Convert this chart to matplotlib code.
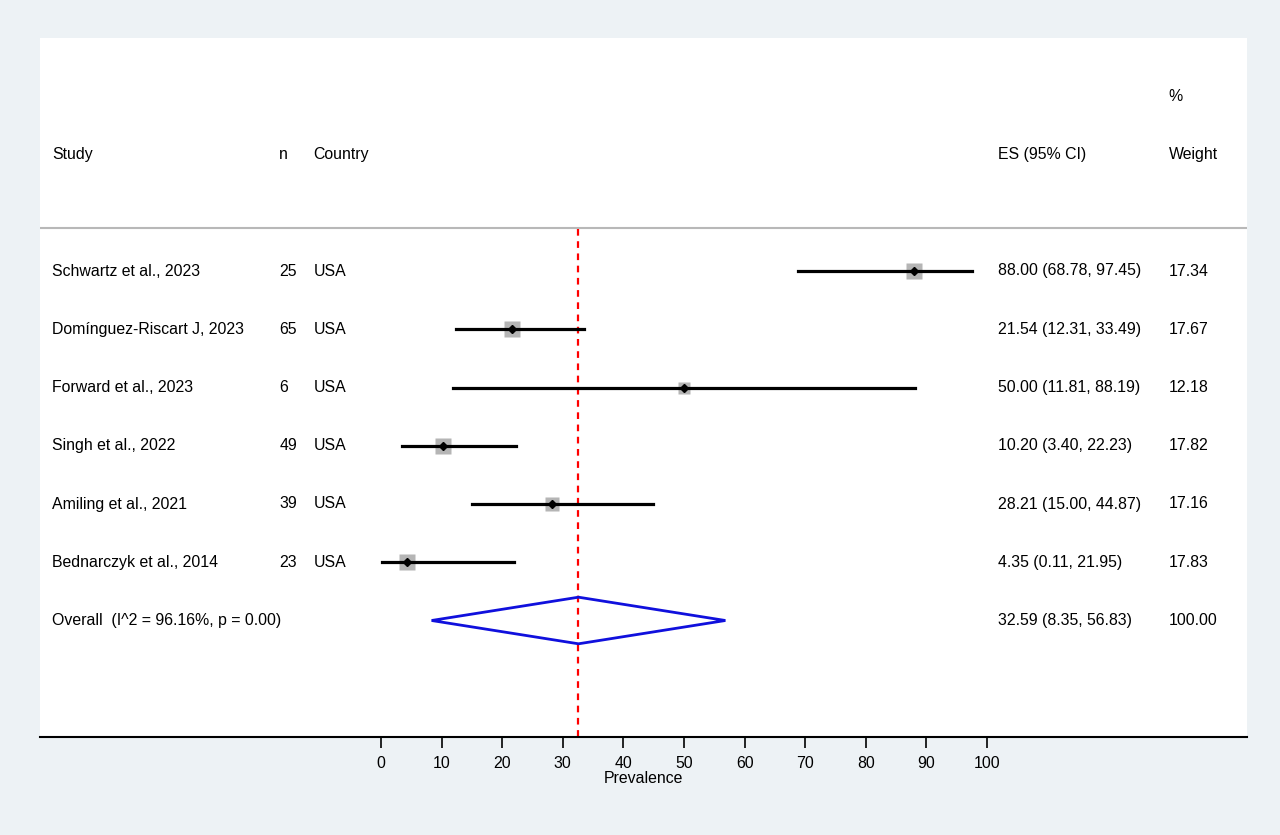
import numpy as np
import matplotlib.pyplot as plt

plt.rcParams['font.family'] = ['Liberation Sans', 'DejaVu Sans']

# data
studies = ["Schwartz et al., 2023", "Domínguez-Riscart J, 2023", "Forward et al., 2023",
           "Singh et al., 2022", "Amiling et al., 2021", "Bednarczyk et al., 2014"]
n = [25, 65, 6, 49, 39, 23]
country = ["USA", "USA", "USA", "USA", "USA", "USA"]
es = [88.00, 21.54, 50.00, 10.20, 28.21, 4.35]
lo = [68.78, 12.31, 11.81, 3.40, 15.00, 0.11]
hi = [97.45, 33.49, 88.19, 22.23, 44.87, 21.95]
weight = [17.34, 17.67, 12.18, 17.82, 17.16, 17.83]
overall_label = "Overall  (I^2 = 96.16%, p = 0.00)"
overall_es, overall_lo, overall_hi = 32.59, 8.35, 56.83

bg = "#edf2f5"
fig = plt.figure(figsize=(12.8, 8.35), dpi=100, facecolor=bg)
ax = fig.add_axes([40/1280, 1-737/835, 1207/1280, 699/835])
ax.set_facecolor("white")
ax.set_xlim((40-381)/6.06, (1247-381)/6.06)
ax.set_ylim(8, -4)

fs = 11.4
x_study, x_n, x_cty, x_es, x_w = -54.3, -16.8, -11.1, 101.8, 130.0

# header
ax.text(x_study, -2, "Study", fontsize=fs, va="center")
ax.text(x_n, -2, "n", fontsize=fs, va="center")
ax.text(x_cty, -2, "Country", fontsize=fs, va="center")
ax.text(x_es, -2, "ES (95% CI)", fontsize=fs, va="center")
ax.text(x_w, -3, "%", fontsize=fs, va="center")
ax.text(x_w, -2, "Weight", fontsize=fs, va="center")
ax.axhline(-0.74, color="#b8b8b8", lw=1.5)

# overall line
ax.plot([overall_es, overall_es], [-0.72, 8], color="red", lw=1.6, ls=(0, (3, 2.5)), zorder=2)

for i in range(len(studies)):
    ax.text(x_study, i, studies[i], fontsize=fs, va="center")
    ax.text(x_n, i, str(n[i]), fontsize=fs, va="center")
    ax.text(x_cty, i, country[i], fontsize=fs, va="center")
    ax.text(x_es, i, "%.2f (%.2f, %.2f)" % (es[i], lo[i], hi[i]), fontsize=fs, va="center")
    ax.text(x_w, i, "%.2f" % weight[i], fontsize=fs, va="center")
    ax.plot(es[i], i, marker="s", color="#b5b5b5", ms=2.6*np.sqrt(weight[i]), mec="none", zorder=3)
    ax.plot([lo[i], hi[i]], [i, i], color="black", lw=2.3, zorder=4)
    ax.plot(es[i], i, marker="D", color="black", ms=4.5, zorder=5)

k = len(studies)
ax.text(x_study, k, overall_label, fontsize=fs, va="center")
ax.text(x_es, k, "%.2f (%.2f, %.2f)" % (overall_es, overall_lo, overall_hi), fontsize=fs, va="center")
ax.text(x_w, k, "%.2f" % sum(weight), fontsize=fs, va="center")
ax.fill([overall_lo, overall_es, overall_hi, overall_es, overall_lo],
        [k, k - 0.4, k, k + 0.4, k], facecolor="none", edgecolor="#1010dd", lw=2, zorder=3)

for s in ["top", "left", "right"]:
    ax.spines[s].set_visible(False)
ax.spines["bottom"].set_linewidth(1.5)
ax.set_yticks([])
ax.set_xticks(np.arange(0, 101, 10))
ax.tick_params(axis="x", length=8, width=1.2, labelsize=fs, pad=6)
ax.set_xlabel("Prevalence", fontsize=fs, labelpad=0)

fig.savefig("out.png", dpi=100, facecolor=bg)
